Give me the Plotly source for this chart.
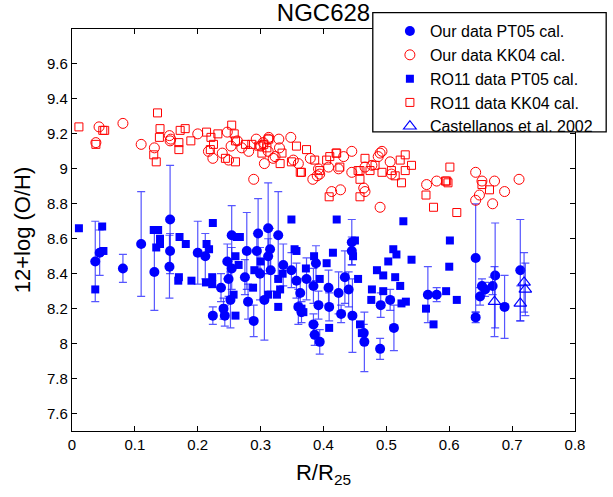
import plotly.graph_objects as go

# ---- Our data, PT05 calibration (filled blue circles, with errors) ----
our_pt_r = [0.037, 0.044, 0.081, 0.110, 0.131, 0.156, 0.156, 0.155, 0.200, 0.212,
            0.224, 0.237, 0.241, 0.243, 0.247, 0.254, 0.254, 0.249, 0.252, 0.296,
            0.312, 0.328, 0.278, 0.294, 0.315, 0.312, 0.336, 0.349, 0.299, 0.316,
            0.275, 0.280, 0.306, 0.289, 0.357, 0.363, 0.360, 0.365, 0.388, 0.373,
            0.384, 0.384, 0.386, 0.394, 0.392, 0.408, 0.409, 0.424, 0.434, 0.440,
            0.428, 0.446, 0.445, 0.445, 0.464, 0.465, 0.490, 0.491, 0.512, 0.506,
            0.566, 0.580, 0.642, 0.642, 0.652, 0.649, 0.657, 0.669, 0.673, 0.688,
            0.713]
our_pt_oh = [8.47, 8.52, 8.43, 8.57, 8.41, 8.71, 8.53, 8.44, 8.52, 8.50,
             8.16, 8.32, 8.20, 8.16, 8.47, 8.62, 8.43, 8.37, 8.25, 8.63,
             8.66, 8.62, 8.53, 8.53, 8.54, 8.50, 8.45, 8.42, 8.40, 8.42,
             8.38, 8.24, 8.25, 8.13, 8.36, 8.29, 8.21, 8.18, 8.46, 8.37,
             8.33, 8.11, 8.05, 8.01, 8.22, 8.32, 8.21, 8.29, 8.38, 8.31,
             8.17, 8.16, 8.58, 8.53, 8.06, 8.01, 7.97, 8.22, 8.09, 8.25,
             8.28, 8.28, 8.49, 8.15, 8.33, 8.27, 8.31, 8.33, 8.39, 8.21,
             8.42]
our_pt_err = [0.23, 0.13, 0.08, 0.30, 0.22, 0.31, 0.10, 0.18, 0.18, 0.13,
              0.05, 0.08, 0.06, 0.06, 0.10, 0.17, 0.12, 0.10, 0.16, 0.20,
              0.26, 0.25, 0.22, 0.10, 0.12, 0.10, 0.12, 0.10, 0.15, 0.12,
              0.10, 0.10, 0.23, 0.09, 0.10, 0.08, 0.10, 0.06, 0.10, 0.12,
              0.10, 0.06, 0.06, 0.07, 0.08, 0.10, 0.08, 0.12, 0.15, 0.10,
              0.05, 0.21, 0.13, 0.08, 0.05, 0.17, 0.06, 0.07, 0.13, 0.06,
              0.16, 0.04, 0.31, 0.03, 0.04, 0.05, 0.04, 0.05, 0.30, 0.18,
              0.29]

# ---- Our data, KK04 calibration (open red circles) ----
our_kk_r = [0.043, 0.038, 0.081, 0.110, 0.131, 0.155, 0.157, 0.156, 0.200, 0.247,
            0.289, 0.306, 0.329, 0.348, 0.320, 0.383, 0.390, 0.413, 0.427, 0.445,
            0.445, 0.466, 0.464, 0.490, 0.490, 0.506, 0.564, 0.580, 0.642, 0.652,
            0.672, 0.711, 0.688, 0.642, 0.648, 0.669,
            0.224, 0.239, 0.249, 0.253, 0.263, 0.270, 0.281, 0.293, 0.300, 0.313,
            0.217, 0.312, 0.304, 0.312, 0.323, 0.330, 0.352, 0.360, 0.379, 0.394,
            0.408, 0.424, 0.432, 0.466, 0.477, 0.487, 0.493, 0.508, 0.392]
our_kk_oh = [9.24, 9.15, 9.26, 9.14, 9.12, 9.19, 9.17, 9.16, 9.20, 9.21,
             8.94, 9.03, 9.17, 9.18, 9.06, 8.94, 8.96, 8.87, 8.88, 8.98,
             9.10, 8.87, 8.89, 8.78, 9.09, 9.04, 8.91, 8.93, 8.98, 8.93,
             8.93, 8.94, 8.87, 8.82, 8.85, 8.80,
             9.06, 9.09, 9.05, 9.13, 9.16, 9.12, 9.10, 9.17, 9.13, 9.18,
             9.10, 9.10, 9.15, 9.17, 9.07, 9.12, 9.05, 9.03, 9.06, 8.97,
             9.01, 9.00, 9.07, 9.01, 9.02, 9.07, 9.10, 8.97, 9.00]

# ---- RO11 data, PT05 calibration (filled blue squares) ----
ro_pt_r = [0.011, 0.037, 0.048, 0.050, 0.130, 0.137, 0.140, 0.134, 0.140, 0.170,
           0.169, 0.171, 0.181, 0.190, 0.224, 0.214, 0.218, 0.213, 0.223, 0.223,
           0.260, 0.262, 0.260, 0.257, 0.267, 0.349, 0.421, 0.357, 0.354, 0.385,
           0.405, 0.415, 0.372, 0.394, 0.328, 0.331, 0.326, 0.328, 0.288, 0.312,
           0.365, 0.368, 0.409, 0.450, 0.447, 0.458, 0.461, 0.455, 0.477, 0.476,
           0.485, 0.495, 0.503, 0.511, 0.516, 0.522, 0.514, 0.527, 0.540, 0.524,
           0.531, 0.563, 0.575, 0.595, 0.600, 0.601, 0.612, 0.495, 0.265, 0.300,
           0.335, 0.290]
ro_pt_oh = [8.66, 8.31, 8.67, 8.53, 8.65, 8.65, 8.60, 8.55, 8.57, 8.38,
            8.36, 8.61, 8.57, 8.36, 8.69, 8.57, 8.54, 8.35, 8.34, 8.38,
            8.16, 8.61, 8.50, 8.28, 8.61, 8.71, 8.71, 8.53, 8.54, 8.50,
            8.46, 8.52, 8.43, 8.37, 8.37, 8.31, 8.28, 8.21, 8.32, 8.28,
            8.20, 8.18, 8.09, 8.59, 8.50, 8.11, 8.06, 8.37, 8.31, 8.25,
            8.42, 8.39, 8.47, 8.54, 8.51, 8.33, 8.38, 8.70, 8.48, 8.23,
            8.24, 8.20, 8.11, 8.30, 8.44, 8.59, 8.25, 8.30, 8.45, 8.47,
            8.40, 8.42]

# ---- RO11 data, KK04 calibration (open red squares) ----
ro_kk_r = [0.011, 0.038, 0.049, 0.052, 0.136, 0.140, 0.139, 0.130, 0.134, 0.170,
           0.170, 0.172, 0.180, 0.189, 0.214, 0.221, 0.232, 0.254, 0.260, 0.373,
           0.363, 0.410, 0.420, 0.458, 0.458, 0.458, 0.409, 0.466, 0.493, 0.514,
           0.524, 0.530, 0.540, 0.530, 0.563, 0.575, 0.601, 0.596, 0.594, 0.598,
           0.612, 0.652, 0.664,
           0.225, 0.220, 0.258, 0.260, 0.244, 0.276, 0.286, 0.297, 0.305, 0.313,
           0.302, 0.310, 0.331, 0.334, 0.349, 0.357, 0.365, 0.386, 0.394, 0.405,
           0.421, 0.426, 0.455, 0.474, 0.482, 0.508, 0.522]
ro_kk_oh = [9.24, 9.14, 9.22, 9.22, 9.32, 9.23, 9.18, 9.08, 9.04, 9.15,
            9.11, 9.22, 9.23, 9.16, 9.21, 9.18, 9.20, 9.25, 9.04, 9.11,
            8.98, 9.07, 9.09, 8.99, 8.94, 8.84, 8.84, 9.06, 8.98, 8.96,
            8.92, 9.08, 9.02, 8.99, 8.85, 8.78, 9.01, 8.93, 8.93, 8.92,
            8.75, 8.91, 8.88,
            9.14, 9.11, 9.20, 9.16, 9.06, 9.14, 9.14, 9.13, 9.14, 9.17,
            9.09, 9.12, 9.03, 9.09, 9.04, 9.13, 8.98, 9.05, 8.99, 9.05,
            9.09, 9.01, 8.99, 8.99, 9.02, 8.99, 9.05]

# ---- Castellanos et al. 2002 (open blue triangles, with errors) ----
cas_r = [0.672, 0.713, 0.719, 0.721]
cas_oh = [8.24, 8.23, 8.35, 8.31]
cas_err = [0.20, 0.10, 0.17, 0.15]

x_ticks = [0, 0.1, 0.2, 0.3, 0.4, 0.5, 0.6, 0.7, 0.8]
y_ticks = [7.6, 7.8, 8.0, 8.2, 8.4, 8.6, 8.8, 9.0, 9.2, 9.4, 9.6]
y_ticktext = ["7.6", "7.8", "8", "8.2", "8.4", "8.6", "8.8", "9", "9.2", "9.4", "9.6"]

BLUE = "#0000ff"
RED = "#ff0000"
ERRC = "rgba(30,30,255,0.75)"
FONT = "Liberation Sans, Arial, sans-serif"

fig = go.Figure()
fig.add_trace(go.Scatter(
    x=our_pt_r, y=our_pt_oh, mode="markers", name="Our data PT05 cal.",
    marker=dict(symbol="circle", size=10, color=BLUE, line=dict(width=0)),
    error_y=dict(type="data", array=our_pt_err, color=ERRC, thickness=1.2, width=4)))
fig.add_trace(go.Scatter(
    x=our_kk_r, y=our_kk_oh, mode="markers", name="Our data KK04 cal.",
    marker=dict(symbol="circle-open", size=10, color=RED, line=dict(width=1))))
fig.add_trace(go.Scatter(
    x=ro_pt_r, y=ro_pt_oh, mode="markers", name="RO11 data PT05 cal.",
    marker=dict(symbol="square", size=8, color=BLUE, line=dict(width=0))))
fig.add_trace(go.Scatter(
    x=ro_kk_r, y=ro_kk_oh, mode="markers", name="RO11 data KK04 cal.",
    marker=dict(symbol="square-open", size=8, color=RED, line=dict(width=1))))
fig.add_trace(go.Scatter(
    x=cas_r, y=cas_oh, mode="markers", name="Castellanos et al. 2002",
    marker=dict(symbol="triangle-up-open", size=11, color=BLUE, line=dict(width=1.2)),
    error_y=dict(type="data", array=cas_err, color=ERRC, thickness=1.2, width=4)))

axis_common = dict(
    showline=True, linecolor="black", linewidth=1.3, mirror="ticks",
    ticks="inside", ticklen=5, tickwidth=1, tickcolor="black",
    showgrid=False, zeroline=False,
    tickfont=dict(family=FONT, size=15, color="black"),
)

fig.update_xaxes(range=[0, 0.8], tickvals=x_ticks,
                 title=dict(text="R/R<sub>25</sub>", standoff=12,
                            font=dict(family=FONT, size=22, color="black")),
                 **axis_common)
fig.update_yaxes(range=[7.5, 9.8], tickvals=y_ticks, ticktext=y_ticktext,
                 title=dict(text="12+log (O/H)", standoff=10,
                            font=dict(family=FONT, size=22, color="black")),
                 **axis_common)

fig.add_shape(type="rect", xref="paper", yref="paper",
              x0=0.598, x1=1.062, y0=0.744, y1=1.0405,
              fillcolor="white", line=dict(color="black", width=1.3), layer="above")

fig.update_layout(
    width=613, height=497,
    margin=dict(l=72, r=38, t=29, b=66, autoexpand=False),
    paper_bgcolor="white", plot_bgcolor="white",
    title=dict(text="NGC628", x=0.5, xref="paper", xanchor="center",
               y=0.975, yref="container", yanchor="middle",
               font=dict(family=FONT, size=24, color="black")),
    showlegend=True,
    legend=dict(x=0.632, y=1.037, xanchor="left", yanchor="top",
                bgcolor="rgba(0,0,0,0)", borderwidth=0,
                font=dict(family=FONT, size=16, color="black"),
                tracegroupgap=0, itemwidth=30),
)

fig.write_html("out.html",
               config={"displayModeBar": False},
               post_script="document.body.style.margin='0';document.body.style.padding='0';")
